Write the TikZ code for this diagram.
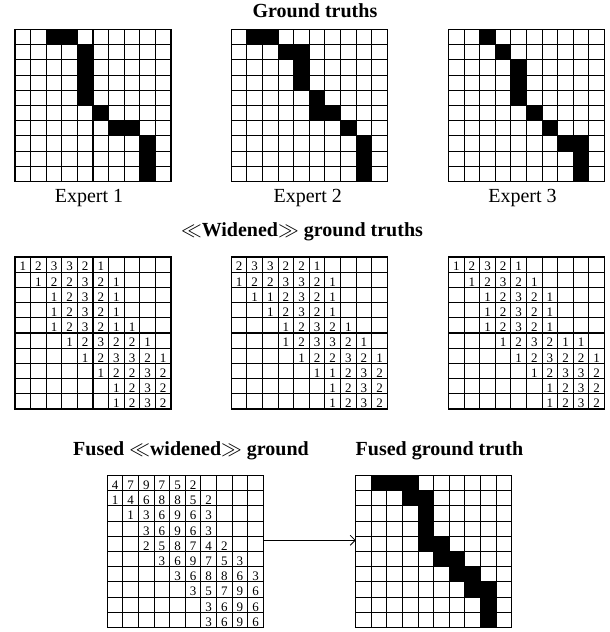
\documentclass[tikz,border=0pt]{standalone}
\usepackage{fontspec}
\setmainfont{Liberation Serif}
\usetikzlibrary{arrows.meta}
\newcommand\cellw{15.6}
\newcommand\cellh{15.2}
\newcommand\gridlines[2]{%
  \foreach \gi in {0,...,10} {
    \draw[gridline] ({#1+\gi*\cellw},#2) -- ({#1+\gi*\cellw},{#2+10*\cellh});
    \draw[gridline] (#1,{#2+\gi*\cellh}) -- ({#1+10*\cellw},{#2+\gi*\cellh});
  }}
\newcommand\blackcells[3]{%
  \foreach \ri/\ci in {#3} {
    \fill ({#1+\ci*\cellw},{#2+\ri*\cellh}) rectangle ++(\cellw,\cellh);
  }}
\newcommand\numcells[3]{%
  \foreach \rowvals [count=\ri from 0] in {#3} {
    \foreach \v [count=\ci from 0] in \rowvals {
      \ifnum\v>0 \node[digit] at ({#1+(\ci+0.5)*\cellw},{#2+\ri*\cellh+13.9}) {\v};\fi
    }}}
\begin{document}
\begin{tikzpicture}[x=1pt,y=-1pt,
  gridline/.style={line width=1.1pt,line cap=rect},
  digit/.style={font=\fontsize{13}{15}\selectfont,inner sep=0pt,anchor=base},
  title/.style={font=\fontsize{20}{24}\selectfont\bfseries,inner sep=0pt,anchor=base},
  label/.style={font=\fontsize{20}{24}\selectfont,inner sep=0pt,anchor=base},
  arrowline/.style={line width=0.8pt,-{Straight Barb[length=5pt,width=10pt]}}]
\useasboundingbox (0,0) rectangle (610,632);
% titles
\node[title] (t1) at (315,17.3) {Ground truths};
\node[title] (t2) at (302,236.7) {$\ll$Widened$\gg$ ground truths};
\node[title,anchor=base east] (t3) at (309,455) {Fused $\ll$widened$\gg$ ground};
\node[title,anchor=base west] (t4) at (355.5,455) {Fused ground truth};
% expert labels
\node[label] (e1) at (89,202.7) {Expert 1};
\node[label] (e2) at (307.7,202.7) {Expert 2};
\node[label] (e3) at (522.5,202.7) {Expert 3};
% row 1: ground truths
\blackcells{15}{29.5}{0/2,0/3,1/4,2/4,3/4,4/4,5/5,6/6,6/7,7/8,8/8,9/8}
\gridlines{15}{29.5}
\blackcells{231.3}{29.5}{0/1,0/2,1/3,1/4,2/4,3/4,4/5,5/5,5/6,6/7,7/8,8/8,9/8}
\gridlines{231.3}{29.5}
\blackcells{448.5}{29.5}{0/2,1/3,2/4,3/4,4/4,5/5,6/6,7/7,7/8,8/8,9/8}
\gridlines{448.5}{29.5}
% row 2: widened
\gridlines{15}{257}
\numcells{15}{257}{{1,2,3,3,2,1,0,0,0,0},{0,1,2,2,3,2,1,0,0,0},{0,0,1,2,3,2,1,0,0,0},{0,0,1,2,3,2,1,0,0,0},{0,0,1,2,3,2,1,1,0,0},{0,0,0,1,2,3,2,2,1,0},{0,0,0,0,1,2,3,3,2,1},{0,0,0,0,0,1,2,2,3,2},{0,0,0,0,0,0,1,2,3,2},{0,0,0,0,0,0,1,2,3,2}}
\gridlines{231.3}{257}
\numcells{231.3}{257}{{2,3,3,2,2,1,0,0,0,0},{1,2,2,3,3,2,1,0,0,0},{0,1,1,2,3,2,1,0,0,0},{0,0,1,2,3,2,1,0,0,0},{0,0,0,1,2,3,2,1,0,0},{0,0,0,1,2,3,3,2,1,0},{0,0,0,0,1,2,2,3,2,1},{0,0,0,0,0,1,1,2,3,2},{0,0,0,0,0,0,1,2,3,2},{0,0,0,0,0,0,1,2,3,2}}
\gridlines{448.5}{257}
\numcells{448.5}{257}{{1,2,3,2,1,0,0,0,0,0},{0,1,2,3,2,1,0,0,0,0},{0,0,1,2,3,2,1,0,0,0},{0,0,1,2,3,2,1,0,0,0},{0,0,1,2,3,2,1,0,0,0},{0,0,0,1,2,3,2,1,1,0},{0,0,0,0,1,2,3,2,2,1},{0,0,0,0,0,1,2,3,3,2},{0,0,0,0,0,0,1,2,3,2},{0,0,0,0,0,0,1,2,3,2}}
% row 3: fused
\gridlines{107.3}{475.5}
\numcells{107.3}{475.5}{{4,7,9,7,5,2,0,0,0,0},{1,4,6,8,8,5,2,0,0,0},{0,1,3,6,9,6,3,0,0,0},{0,0,3,6,9,6,3,0,0,0},{0,0,2,5,8,7,4,2,0,0},{0,0,0,3,6,9,7,5,3,0},{0,0,0,0,3,6,8,8,6,3},{0,0,0,0,0,3,5,7,9,6},{0,0,0,0,0,0,3,6,9,6},{0,0,0,0,0,0,3,6,9,6}}
\blackcells{355.7}{475.5}{0/1,0/2,0/3,1/3,1/4,2/4,3/4,4/4,4/5,5/5,5/6,6/6,6/7,7/7,7/8,8/8,9/8}
\gridlines{355.7}{475.5}
% arrow
\coordinate (fwR) at (263.3,540.3);
\coordinate (fgL) at (355.7,540.3);
\draw[arrowline] (fwR) -- (fgL);
\end{tikzpicture}
\end{document}
